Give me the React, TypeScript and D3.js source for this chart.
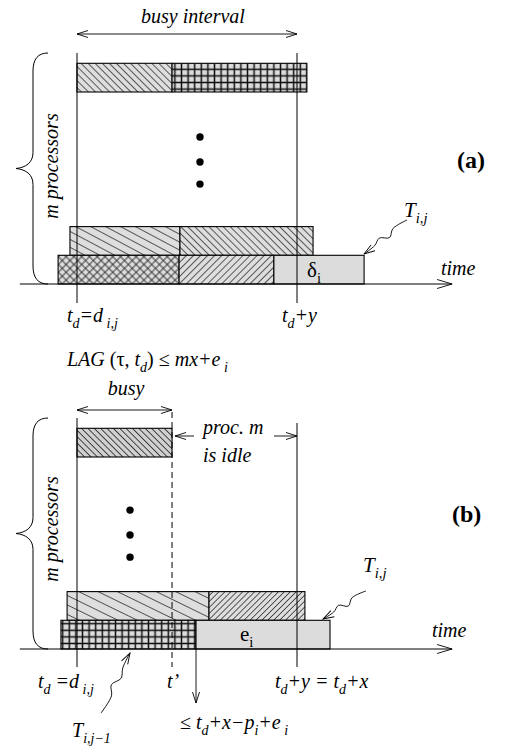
import React from "react";
import * as d3 from "d3";

const width = 509;
const height = 753;

// time axis: t_d = 0, t_d + y = 10 ; lanes counted up from the time axis
const marksT = { td: 0, tdy: 10, tPrime: 4.32, idleEnd: 5.41 };
const axisSpan = [-2.6, 17.05];

const barsA = [
  { lane: 6.69, start: 0, end: 4.32, fill: "hatchBack" },
  { lane: 6.69, start: 4.32, end: 10.45, fill: "gridBold" },
  { lane: 1, start: -0.32, end: 4.68, fill: "hatchShallow" },
  { lane: 1, start: 4.68, end: 10.73, fill: "hatchBack" },
  { lane: 0, start: -0.86, end: 4.64, fill: "crossHatch" },
  { lane: 0, start: 4.64, end: 8.95, fill: "hatchFwd" },
  { lane: 0, start: 8.95, end: 13.05, fill: "plain" },
];
const barsB = [
  { lane: 6.69, start: 0, end: 4.32, fill: "hatchBackDark" },
  { lane: 1, start: -0.45, end: 6.0, fill: "hatchShallowWide" },
  { lane: 1, start: 6.0, end: 10.36, fill: "hatchFwdDense" },
  { lane: 0, start: -0.73, end: 5.41, fill: "gridBold" },
  { lane: 0, start: 5.41, end: 11.5, fill: "plain" },
];
const dotsA = [5.12, 4.25, 3.48];
const dotsB = [4.84, 3.97, 3.2];
const dotTimeA = 5.59;
const dotTimeB = 2.41;

const x = d3.scaleLinear().domain([0, 10]).range([77, 297]);
const laneScale = d3.scaleLinear().domain([0, 1]).range([0, -28.7]);

const FONT = "Liberation Serif";

type Part = { t: string; sub?: boolean; up?: boolean };

function Label({ x, y, parts, size = 20, anchor = "start", bold = false }: any) {
  let cur = 0;
  return (
    <text x={x} y={y} textAnchor={anchor} fontFamily={FONT} fontSize={size} fontWeight={bold ? "bold" : "normal"}>
      {parts.map((p: Part, k: number) => {
        const off = p.sub ? size * 0.3 : 0;
        const dy = off - cur;
        cur = off;
        return (
          <tspan key={k} dy={dy} fontFamily={FONT} fontSize={p.sub ? size * 0.7 : size} fontStyle={p.up ? "normal" : "italic"}>
            {p.t}
          </tspan>
        );
      })}
    </text>
  );
}

const squiggle = (x0: number, y0: number, x1: number, y1: number) => {
  const dx = x1 - x0, dy = y1 - y0;
  const len = Math.hypot(dx, dy);
  const nx = -dy / len, ny = dx / len;
  const pts: [number, number][] = [
    [0, 0], [0.3, 2], [0.45, -3], [0.6, 3], [0.75, 0], [1, 0],
  ].map(([t, o]) => [x0 + dx * t + nx * o, y0 + dy * t + ny * o]);
  return d3.line().curve(d3.curveCatmullRom)(pts) || "";
};

const Brace = ({ top, bot }: { top: number; bot: number }) => {
  const mid = (top + bot) / 2;
  const d = `M48,${top} C38,${top} 33,${top + 6} 33,${top + 18} L33,${mid - 16} C33,${mid - 6} 26,${mid - 1} 16,${mid} C26,${mid + 1} 33,${mid + 6} 33,${mid + 16} L33,${bot - 18} C33,${bot - 6} 38,${bot} 48,${bot}`;
  return <path d={d} fill="none" stroke="#000" strokeWidth={1} />;
};

function Panel({ axisY, bars, dots, dotTime }: any) {
  const y = (lane: number) => axisY + laneScale(lane);
  return (
    <g>
      {bars.map((b: any, i: number) => (
        <rect
          key={i}
          x={x(b.start)}
          y={y(b.lane + 1)}
          width={x(b.end) - x(b.start)}
          height={y(b.lane) - y(b.lane + 1)}
          fill={b.fill === "plain" ? "#dcdcdc" : `url(#${b.fill})`}
          stroke="#000"
          strokeWidth={1.1}
        />
      ))}
      {dots.map((l: number, i: number) => (
        <circle key={i} cx={x(dotTime)} cy={y(l)} r={3.7} fill="#000" />
      ))}
      <line
        x1={x(axisSpan[0])}
        x2={x(axisSpan[1])}
        y1={axisY}
        y2={axisY}
        stroke="#000"
        strokeWidth={1}
        markerEnd="url(#arrBig)"
      />
    </g>
  );
}

const hatch = (id: string, angle: number, sp: number, sw = 0.75, bg = "#dedede") => (
  <pattern id={id} patternUnits="userSpaceOnUse" width={sp} height={sp} patternTransform={`rotate(${angle})`}>
    <rect width={sp} height={sp} fill={bg} />
    <line x1={sp / 2} y1={0} x2={sp / 2} y2={sp} stroke="#2a2a2a" strokeWidth={sw} />
  </pattern>
);

export default function App() {
  const aY = 284;
  const bY = 649;
  return (
    <svg width={width} height={height} style={{ display: "block", position: "absolute", left: 0, top: 0, background: "#fff" }}>
      <defs>
        {hatch("hatchBack", -45, 5)}
        {hatch("hatchBackDark", -45, 4.5, 0.85, "#d0d0d0")}
        {hatch("hatchShallow", -62, 7)}
        {hatch("hatchShallowWide", -64, 8.5)}
        {hatch("hatchFwd", 45, 5)}
        {hatch("hatchFwdDense", 45, 4.2)}
        <pattern id="crossHatch" patternUnits="userSpaceOnUse" width={5.5} height={5.5} patternTransform="rotate(45)">
          <rect width={5.5} height={5.5} fill="#dcdcdc" />
          <line x1={2.75} y1={0} x2={2.75} y2={5.5} stroke="#222" strokeWidth={0.85} />
          <line x1={0} y1={2.75} x2={5.5} y2={2.75} stroke="#222" strokeWidth={0.85} />
        </pattern>
        <pattern id="gridBold" patternUnits="userSpaceOnUse" width={6.6} height={6.6}>
          <rect width={6.6} height={6.6} fill="#dcdcdc" />
          <line x1={3.3} y1={0} x2={3.3} y2={6.6} stroke="#111" strokeWidth={1.5} />
          <line x1={0} y1={3.3} x2={6.6} y2={3.3} stroke="#111" strokeWidth={1.5} />
        </pattern>
        <marker id="arr" viewBox="-12 -6 14 12" refX={0} refY={0} markerWidth={14} markerHeight={12} markerUnits="userSpaceOnUse" orient="auto-start-reverse">
          <path d="M-11,-3.5 L0,0 L-11,3.5" fill="none" stroke="#000" strokeWidth={0.9} />
        </marker>
        <marker id="arrBig" viewBox="-16 -6 18 12" refX={0} refY={0} markerWidth={18} markerHeight={12} markerUnits="userSpaceOnUse" orient="auto">
          <path d="M-15,-4.5 L0,0 L-15,4.5" fill="none" stroke="#000" strokeWidth={0.9} />
        </marker>
      </defs>

      {/* ---------- panel (a) ---------- */}
      <Label x={193} y={23} size={20} anchor="middle" parts={[{ t: "busy interval" }]} />
      <line x1={x(marksT.td)} x2={x(marksT.tdy)} y1={34} y2={34} stroke="#000" strokeWidth={0.9} markerStart="url(#arr)" markerEnd="url(#arr)" />
      <Panel axisY={aY} bars={barsA} dots={dotsA} dotTime={dotTimeA} />
      <line x1={x(marksT.td)} x2={x(marksT.td)} y1={53} y2={303} stroke="#000" strokeWidth={1} />
      <line x1={x(marksT.tdy)} x2={x(marksT.tdy)} y1={53} y2={303} stroke="#000" strokeWidth={1} />
      <Brace top={53} bot={aY} />
      <g transform="translate(58,166) rotate(-90)">
        <Label x={0} y={0} size={20} anchor="middle" parts={[{ t: "m processors" }]} />
      </g>
      <Label x={457} y={168} size={24} bold parts={[{ t: "(a)", up: true }]} />
      <Label x={404} y={217} size={21} parts={[{ t: "T" }, { t: "i,j", sub: true }]} />
      <path d={squiggle(407, 220, 364, 254)} fill="none" stroke="#000" strokeWidth={0.9} markerEnd="url(#arr)" />
      <Label x={441} y={275} size={20} parts={[{ t: "time" }]} />
      <Label x={307} y={277} size={21} parts={[{ t: "δ", up: true }, { t: "i", sub: true, up: true }]} />
      <Label x={67} y={322} size={20} parts={[{ t: "t" }, { t: "d", sub: true }, { t: "=d" }, { t: " i,j", sub: true }]} />
      <Label x={282} y={322} size={20} parts={[{ t: "t" }, { t: "d", sub: true }, { t: "+y" }]} />
      <Label
        x={67}
        y={366}
        size={20}
        parts={[{ t: "LAG " }, { t: "(τ, ", up: true }, { t: "t" }, { t: "d", sub: true }, { t: ") ≤ ", up: true }, { t: "mx+e" }, { t: " i", sub: true }]}
      />

      {/* ---------- panel (b) ---------- */}
      <Label x={126} y={395} size={20} anchor="middle" parts={[{ t: "busy" }]} />
      <line x1={x(marksT.td)} x2={x(marksT.tPrime)} y1={410} y2={410} stroke="#000" strokeWidth={0.9} markerStart="url(#arr)" markerEnd="url(#arr)" />
      <Panel axisY={bY} bars={barsB} dots={dotsB} dotTime={dotTimeB} />
      <line x1={x(marksT.td)} x2={x(marksT.td)} y1={418} y2={667} stroke="#000" strokeWidth={1} />
      <line x1={x(marksT.tdy)} x2={x(marksT.tdy)} y1={423} y2={667} stroke="#000" strokeWidth={1} />
      <line x1={x(marksT.tPrime)} x2={x(marksT.tPrime)} y1={412} y2={667} stroke="#000" strokeWidth={1} strokeDasharray="6,4" />
      <Label x={203} y={434} size={20} parts={[{ t: "proc. m" }]} />
      <Label x={203} y={462} size={20} parts={[{ t: "is idle" }]} />
      <line x1={194} x2={x(marksT.tPrime) + 3} y1={436} y2={436} stroke="#000" strokeWidth={0.9} markerEnd="url(#arr)" />
      <line x1={274} x2={x(marksT.tdy)} y1={436} y2={436} stroke="#000" strokeWidth={0.9} markerEnd="url(#arr)" />
      <Brace top={418} bot={bY} />
      <g transform="translate(58,529) rotate(-90)">
        <Label x={0} y={0} size={20} anchor="middle" parts={[{ t: "m processors" }]} />
      </g>
      <Label x={452} y={522} size={24} bold parts={[{ t: "(b)", up: true }]} />
      <Label x={363} y={572} size={21} parts={[{ t: "T" }, { t: "i,j", sub: true }]} />
      <path d={squiggle(366, 591, 323, 619)} fill="none" stroke="#000" strokeWidth={0.9} markerEnd="url(#arr)" />
      <Label x={432} y={637} size={20} parts={[{ t: "time" }]} />
      <Label x={240} y={641} size={21} parts={[{ t: "e", up: true }, { t: "i", sub: true, up: true }]} />
      <line x1={x(marksT.idleEnd)} x2={x(marksT.idleEnd)} y1={bY} y2={703} stroke="#000" strokeWidth={0.9} markerEnd="url(#arr)" />
      <Label x={38} y={688} size={20} parts={[{ t: "t" }, { t: "d", sub: true }, { t: " =d" }, { t: " i,j", sub: true }]} />
      <Label x={167} y={688} size={20} parts={[{ t: "t’" }]} />
      <Label x={275} y={688} size={20} parts={[{ t: "t" }, { t: "d", sub: true }, { t: "+y = t" }, { t: "d", sub: true }, { t: "+x" }]} />
      <Label
        x={180}
        y={729}
        size={20}
        parts={[{ t: "≤ ", up: true }, { t: "t" }, { t: "d", sub: true }, { t: "+x−p" }, { t: "i", sub: true }, { t: "+e" }, { t: " i", sub: true }]}
      />
      <path d={squiggle(101, 713, 130, 653)} fill="none" stroke="#000" strokeWidth={0.9} markerEnd="url(#arr)" />
      <Label x={72} y={737} size={20} parts={[{ t: "T" }, { t: "i,j−1", sub: true }]} />
    </svg>
  );
}
